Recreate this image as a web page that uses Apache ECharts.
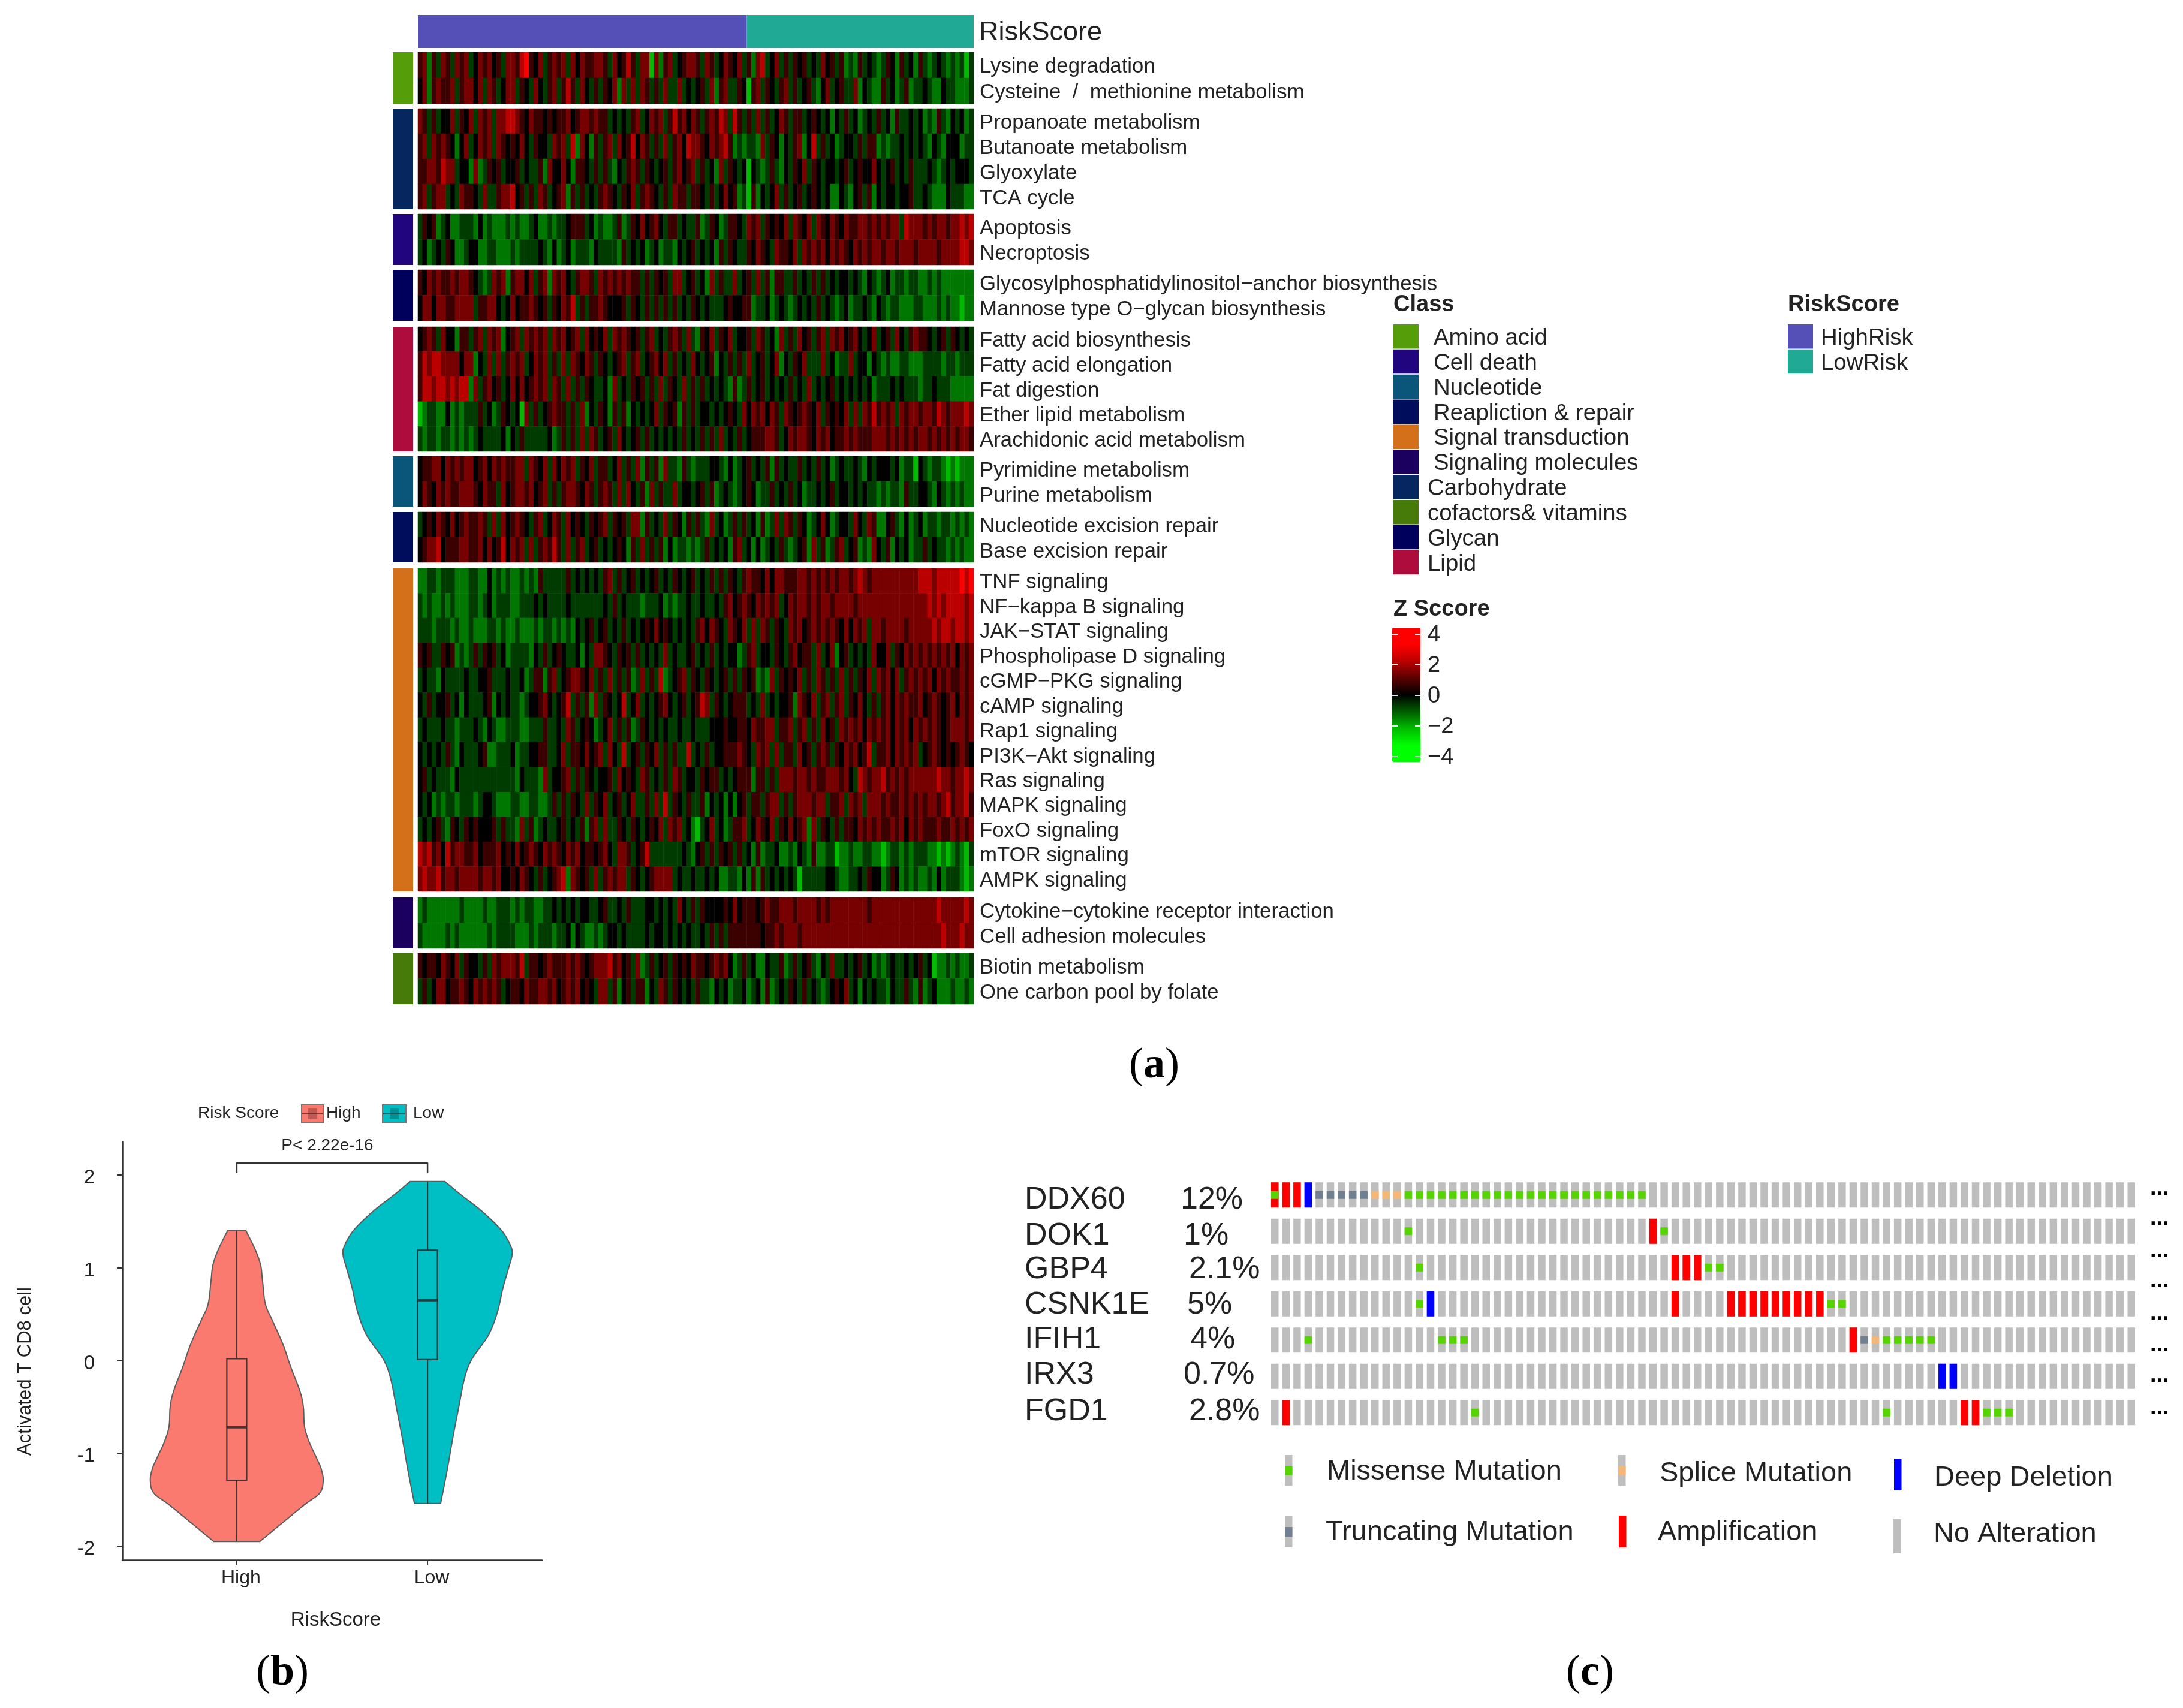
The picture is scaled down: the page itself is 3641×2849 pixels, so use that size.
<!DOCTYPE html>
<html><head><meta charset="utf-8">
<style>html,body{margin:0;padding:0;background:#fff}#c{width:3641px;height:2849px;filter:blur(0.7px)}</style>
<script src="https://cdn.jsdelivr.net/npm/echarts@6/dist/echarts.min.js"></script>
</head><body><div id="c"></div>
<script>
// ---------- panel (a) data: z-score levels estimated by eye, 0..8 => -3.3 .. +3.3 (4 = 0)
const aminoLabels=["Lysine degradation","Cysteine  /  methionine metabolism"];
const aminoRows=[
"5625365365 6346564536 6578546356 5636465566 5364575366 1625634566 5365346546 3526734635 3545343645 3523253432 3542534253 2343232313",
"4625655635 6646365346 6354364356 3575364353 5462636365 3536336343 4536256335 4156354356 3534532463 4533624322 5342352334 3224332223"];
const carbLabels=["Propanoate metabolism","Butanoate metabolism","Glyoxylate","TCA cycle"];
const carbRows=[
"6535344635 4636563667 7654655454 5564566565 5343435634 6563575646 5356576375 3536353465 3553454342 4353423435 3425334342 3253243423",
"5636565424 6346563654 5464354436 5637264253 5636457465 3536356476 6546567523 2332635424 3562473534 2344353552 3233434343 2432444233",
"5566576634 4262354534 4534335264 4642554353 5324356535 4345356456 3534263543 4143235324 3546354344 3453454464 3453435333 4323434443",
"5635663436 5543633566 7453536534 5625353435 6543546356 5435365535 5435346452 3152434635 3453454342 2432453524 3443445334 3222433322"];
const deathLabels=["Apoptosis","Necroptosis"];
const deathRows=[
"3545234223 3324232223 2322342232 3345553423 2235235464 5643553433 5235423554 3656354546 3654636546 5465566565 6566376665 6566566767",
"3423435422 3442233222 3233334324 2342333243 3332534342 3423324345 3434253543 3546543655 4636565646 5654656566 5665666566 6656666776"];
const glycanLabels=["Glycosylphosphatidylinositol\u2212anchor biosynthesis","Mannose type O\u2212glycan biosynthesis"];
const glycanRows=[
"5465655656 6543236562 5664635626 5643566536 5656565535 3545366345 3426353363 4536352553 3534353534 3443432432 3423323322 3232222222",
"4664665566 6635566434 6455654535 4657353556 5444535435 3535353435 4343334544 5523342343 2343435343 2342334324 3233222332 2232322122"];
const lipidLabels=["Fatty acid biosynthesis","Fatty acid elongation","Fat digestion","Ether lipid metabolism","Arachidonic acid metabolism"];
const lipidRows=[
"4565364425 5356365624 5636565636 5645636454 6365654535 6343565363 2546354634 4536534263 5364535636 5645643463 4536435655 4345354343",
"5767766664 6624363635 6563465635 3636546535 4345635634 5646353436 4345243535 3634534624 3546333634 2336344243 2322332223 3332332333",
"5776776767 7263564534 6464565636 5363535433 4263435453 5363543635 3534343252 3534534343 5343634345 3434343423 3343433323 3433322222",
"1233224232 3335342354 3416353456 5535362435 4253524343 4635452535 3443434543 6465646536 5456546354 5463636575 6563656656 6576566676",
"3233233232 3234333342 4353333342 3535363653 4536434535 3434343534 3535363435 3455566534 6566546564 5565655566 6565656566 5656565665"];
const nucleotideLabels=["Pyrimidine metabolism","Purine metabolism"];
const nucleotideRows=[
"4556646565 6645646565 5663654636 4656354635 5346353625 3526332532 3334432423 4534352534 3353435342 3433432434 4434233143 2332121222",
"4654656556 6654655364 5665645635 3566546535 6536364352 6353363443 4535234323 4542335343 5342334345 3443434332 3233253344 3243232322"];
const repairLabels=["Nucleotide excision repair","Base excision repair"];
const repairRows=[
"3454654645 6556536364 5654356346 5364543545 6354536625 3436354253 5326342353 5342523636 5354234642 3443643652 2453242342 3323323232",
"4566745556 6556464574 6563635657 5363563453 4345425363 5352423323 2353434256 3424234353 2345263523 5634523264 3524342335 3433232322"];
const signalLabels=["TNF signaling","NF\u2212kappa B signaling","JAK\u2212STAT signaling","Phospholipase D signaling","cGMP\u2212PKG signaling","cAMP signaling","Rap1 signaling","PI3K\u2212Akt signaling","Ras signaling","MAPK signaling","FoxO signaling","mTOR signaling","AMPK signaling"];
const signalRows=[
"2233233322 2332242323 2232325333 3353434343 5635345343 4534354345 3435353543 5655464665 5566565656 5665676566 6666666677 7677777878",
"3232232322 2332342333 2233343433 3343333333 4353433323 3342323343 3433435645 6546565634 6566565665 6666566666 6666666666 7676777767",
"3332333232 2322233232 2322232332 3232434534 5343534345 4645434343 5646543654 6363653543 6564565656 5464656366 5666656666 6767767767",
"5453354523 2353545342 3333243534 5433424366 5435453534 3436343345 3435343442 3563443543 5645536346 2453434364 4635465656 5656564656",
"3433243333 4334453334 3342355256 3456654635 3635352363 5372345635 4354345353 5452326354 5463536535 3635354636 5646356565 6465655656",
"4353445342 4333452434 3323445643 4573535263 5434734634 3456434534 5763543455 5343634344 5265463563 5635464353 5646565564 5654564656",
"3433343323 3343243223 3322333533 4365345423 4635352354 3434334334 3334445445 5465566355 6356353645 3656564656 5646564656 5654566656",
"4343435324 3334522333 4233445533 4635546456 3643734535 4635353373 4353445556 5436563635 5364535653 5465645735 5646565634 5654545654",
"4534333243 3333333333 3243332634 4563535434 4536454365 3435365344 3545534345 5525535366 6566565566 6564376566 7565656666 6676656676",
"4342323323 3323443222 3322332235 3535436354 6345346335 3637354353 3524342424 5355356635 3566656635 5636563666 5655656565 6656756675",
"3434532543 5454445353 3263523433 4534352563 6335435434 5463656342 1346342355 6346546354 6456263543 5355465656 5565646565 5565565656",
"7675647566 5564555645 4645654656 5465645545 6436653457 3333333432 4535354535 3425233422 3243252233 1223223322 1233232333 2212123213",
"6766756656 6665665644 5465435345 6726545363 5656635434 5666634334 3343422332 4252534343 4313333344 3223343544 2354232322 3242333212"];
const moleculeLabels=["Cytokine\u2212cytokine receptor interaction","Cell adhesion molecules"];
const moleculeRows=[
"2322222223 2222322333 2323322334 3434344334 5334353334 4343436435 3544445464 5554565566 6566665656 6666666566 6666666666 6676666676",
"3222223232 2222232333 3222323332 3342432232 3443433334 3443434343 3435353555 5555455656 6656666666 6666666666 6666666666 6667666766"];
const cofactorLabels=["Biotin metabolism","One carbon pool by folate"];
const cofactorRows=[
"5455465463 5443536566 6573554565 5565654566 6756453623 5345354546 5545656423 5342243352 3534532436 3343453423 2343343453 4122323223",
"3534664556 5465656534 5546556656 4565645436 6352453552 4365354343 5332434233 4234252343 5435343234 5463424343 3243353252 3422232232"];
const levelValues=[-3.3,-2.2,-1.4,-0.7,0,0.7,1.4,2.2,3.3];

const riskNames=["HighRisk","LowRisk"];
const riskSampleCounts=[71,49];
const riskColors=["#5450B8","#20A994"];
const classNames=["Amino acid","Cell death","Nucleotide","Reapliction & repair","Signal transduction","Signaling molecules","Carbohydrate","cofactors& vitamins","Glycan","Lipid"];
const classColors=["#559E0A","#21057F","#09567A","#000C5C","#D5701A","#1B0060","#05265F","#467A09","#00005C","#AF0C3E"];
const zTicks=[4,2,0,-2,-4];

// ---------- panel (b) data
const riskGroups=["High","Low"];
const highDensityY=[1.40,1.20,1.03,0.86,0.61,0.44,0.18,-0.07,-0.33,-0.50,-0.71,-0.88,-1.05,-1.17,-1.30,-1.43,-1.56,-1.77,-1.95];
const highDensityW=[.048,.096,.125,.135,.150,.185,.241,.283,.331,.349,.355,.380,.418,.443,.453,.434,.351,.227,.121];
const lowDensityY=[1.93,1.79,1.62,1.41,1.24,1.14,.99,.78,.52,.27,.01,-.20,-.50,-.83,-1.17,-1.54];
const lowDensityW=[.091,.173,.279,.385,.435,.443,.424,.395,.366,.318,.231,.193,.164,.133,.104,.069];
const highBox=[-1.95,-1.29,-0.72,0.02,1.40];
const lowBox=[-1.54,0.01,0.65,1.19,1.93];
const bracketPoints=[[1,2.02],[1,2.13],[2,2.13],[2,2.02]];

// ---------- panel (c) data
const genes=["DDX60","DOK1","GBP4","CSNK1E","IFIH1","IRX3","FGD1"];
const genePercents=["12%","1%","2.1%","5%","4%","0.7%","2.8%"];
const sampleColumnCount=78;
const amplification=[[0,0],[1,0],[2,0],[34,1],[36,2],[37,2],[38,2],[36,3],[41,3],[42,3],[43,3],[44,3],[45,3],[46,3],[47,3],[48,3],[49,3],[52,4],[1,6],[62,6],[63,6]];
const deepDeletion=[[3,0],[14,3],[60,5],[61,5]];
const truncating=[[4,0],[5,0],[6,0],[7,0],[8,0],[53,4]];
const splice=[[9,0],[10,0],[11,0],[54,4]];
const missense=[[0,0],[12,0],[13,0],[14,0],[15,0],[16,0],[17,0],[18,0],[19,0],[20,0],[21,0],[22,0],[23,0],[24,0],[25,0],[26,0],[27,0],[28,0],[29,0],[30,0],[31,0],[32,0],[33,0],
[12,1],[35,1],[13,2],[39,2],[40,2],[13,3],[50,3],[51,3],[3,4],[15,4],[16,4],[17,4],[55,4],[56,4],[57,4],[58,4],[59,4],[18,6],[55,6],[64,6],[65,6],[66,6]];
const alterationNames=["Missense Mutation","Splice Mutation","Deep Deletion","Truncating Mutation","Amplification","No Alteration"];

// ---------- layout and styles
const SANS='"Liberation Sans"';
const INK='#222';
const GRAY='#BEBEBE',RED='#FF0000',BLUE='#0000FF',GREEN='#55D400',SLATE='#708090',PEACH='#F5B775';
const groups=[
 {labels:aminoLabels,rows:aminoRows,cls:0,top:87,bottom:173},
 {labels:carbLabels,rows:carbRows,cls:6,top:181,bottom:349},
 {labels:deathLabels,rows:deathRows,cls:1,top:357,bottom:442},
 {labels:glycanLabels,rows:glycanRows,cls:8,top:450,bottom:535},
 {labels:lipidLabels,rows:lipidRows,cls:9,top:545,bottom:753},
 {labels:nucleotideLabels,rows:nucleotideRows,cls:2,top:761,bottom:845},
 {labels:repairLabels,rows:repairRows,cls:3,top:854,bottom:938},
 {labels:signalLabels,rows:signalRows,cls:4,top:948,bottom:1487},
 {labels:moleculeLabels,rows:moleculeRows,cls:5,top:1497,bottom:1582},
 {labels:cofactorLabels,rows:cofactorRows,cls:7,top:1590,bottom:1675}];
const HEAT_L=697,HEAT_W=927,ANN_L=655,ANN_W=34;

const grid=[],xAxis=[],yAxis=[],series=[],graphic=[];
function addGrid(rect,x,y){
  grid.push(Object.assign({containLabel:false},rect));
  const i=grid.length-1;
  xAxis.push(Object.assign({gridIndex:i},x));
  yAxis.push(Object.assign({gridIndex:i},y));
  return i;
}
const hiddenAxisBits={axisLine:{show:false},axisTick:{show:false},splitLine:{show:false}};
const noLabel={axisLabel:{show:false}};

// risk score bar
{
  const g=addGrid({left:HEAT_L,top:25,width:HEAT_W,height:55},
    Object.assign({type:'value',min:0,max:riskSampleCounts[0]+riskSampleCounts[1]},hiddenAxisBits,noLabel),
    Object.assign({type:'category',data:['RiskScore'],position:'right'},hiddenAxisBits,{axisLabel:{fontFamily:SANS,fontSize:45,color:INK,margin:9,verticalAlign:'top',lineHeight:4}}));
  riskNames.forEach((n,i)=>series.push({type:'bar',name:n,stack:'risk',xAxisIndex:g,yAxisIndex:g,barWidth:'100%',silent:true,
    itemStyle:{color:riskColors[i]},data:[riskSampleCounts[i]]}));
}
// heatmap groups
const heatIdx=[];
groups.forEach(G=>{
  const rows=G.rows.map(r=>r.replace(/ /g,''));
  const cols=rows[0].length;
  const h=G.bottom-G.top;
  const g=addGrid({left:HEAT_L,top:G.top,width:HEAT_W,height:h},
    Object.assign({type:'category',data:Array.from({length:cols},(_,i)=>'S'+i)},hiddenAxisBits,noLabel),
    Object.assign({type:'category',inverse:true,data:G.labels,position:'right'},hiddenAxisBits,{axisLabel:{interval:0,fontFamily:SANS,fontSize:34.8,color:INK,margin:10,verticalAlign:'top',lineHeight:6}}));
  const data=[];
  rows.forEach((r,y)=>{for(let x=0;x<r.length;x++)data.push([x,y,levelValues[+r[x]]]);});
  heatIdx.push(series.length);
  series.push({type:'heatmap',xAxisIndex:g,yAxisIndex:g,data,silent:true,progressive:0,emphasis:{disabled:true}});
  // class annotation strip
  const a=addGrid({left:ANN_L,top:G.top,width:ANN_W,height:h},
    Object.assign({type:'value',min:0,max:1},hiddenAxisBits,noLabel),
    Object.assign({type:'category',data:[classNames[G.cls]]},hiddenAxisBits,noLabel));
  series.push({type:'bar',xAxisIndex:a,yAxisIndex:a,barWidth:'100%',silent:true,itemStyle:{color:classColors[G.cls]},data:[1]});
});

// violin
function catmull(p){
  const out=[];
  for(let i=0;i<p.length-1;i++){
    const a=p[Math.max(i-1,0)],b=p[i],c=p[i+1],d=p[Math.min(i+2,p.length-1)];
    for(let k=0;k<8;k++){
      const t=k/8,t2=t*t,t3=t2*t;
      out.push([0,1].map(j=>0.5*(2*b[j]+(c[j]-a[j])*t+(2*a[j]-5*b[j]+4*c[j]-d[j])*t2+(3*b[j]-a[j]-3*c[j]+d[j])*t3)));
    }
  }
  out.push(p[p.length-1]);
  return out;
}
const violinDefs=[
 {y:highDensityY,w:highDensityW,box:highBox,fill:'#FB7A70'},
 {y:lowDensityY,w:lowDensityW,box:lowBox,fill:'#00BFC4'}];
function renderViolin(params,api){
  const c=api.value(0),V=violinDefs[params.dataIndex];
  const left=catmull(V.y.map((y,i)=>api.coord([c-V.w[i],y])));
  const right=catmull(V.y.map((y,i)=>api.coord([c+V.w[i],y])));
  const bw=0.052,b=V.box;
  const stroke='rgba(40,40,40,0.85)';
  const P=(x,y)=>api.coord([x,y]);
  const ln=(x1,y1,x2,y2,w)=>{const s=P(x1,y1),e=P(x2,y2);return{type:'line',shape:{x1:s[0],y1:s[1],x2:e[0],y2:e[1]},style:{stroke,lineWidth:w,fill:null}};};
  return {type:'group',children:[
    {type:'polygon',shape:{points:left.concat(right.reverse())},style:{fill:V.fill,stroke:'#5c5c5c',lineWidth:2}},
    ln(c,b[3],c,b[4],2.2),ln(c,b[0],c,b[1],2.2),
    {type:'polygon',shape:{points:[P(c-bw,b[1]),P(c+bw,b[1]),P(c+bw,b[3]),P(c-bw,b[3])]},style:{fill:null,stroke,lineWidth:2.2}},
    ln(c-bw,b[2],c+bw,b[2],4)
  ]};
}
{
  const g=addGrid({left:204,top:1905,width:700,height:697},
   {type:'value',min:0.4,max:2.6,splitLine:{show:false},
    axisLine:{show:true,onZero:false,lineStyle:{color:'#333',width:2.5}},
    axisTick:{show:true,length:8,lineStyle:{color:'#333',width:2},customValues:[1,2]},
    axisLabel:{customValues:[1,2],formatter:v=>riskGroups[Math.round(v)-1],fontFamily:SANS,fontSize:32,color:INK,margin:14,padding:[0,0,0,14]},
    name:'RiskScore',nameLocation:'middle',nameGap:84,nameTextStyle:{fontFamily:SANS,fontSize:33,color:INK,padding:[0,0,0,12]}},
   {type:'value',min:-2.149,max:2.355,splitLine:{show:false},
    axisLine:{show:true,onZero:false,lineStyle:{color:'#333',width:2.5}},
    axisTick:{show:true,length:9,lineStyle:{color:'#333',width:2},customValues:[-2,-1,0,1,2]},
    axisLabel:{customValues:[-2,-1,0,1,2],fontFamily:SANS,fontSize:33,color:INK,margin:46,verticalAlign:'top',lineHeight:10},
    name:'Activated T CD8 cell',nameLocation:'middle',nameRotate:90,nameGap:146,nameTextStyle:{fontFamily:SANS,fontSize:31,color:INK,padding:[0,68,0,0]}});
  series.push({type:'custom',xAxisIndex:g,yAxisIndex:g,silent:true,clip:false,encode:{x:0,y:1},
    data:[[1,highBox[2]],[2,lowBox[2]]],renderItem:renderViolin});
  series.push({type:'line',xAxisIndex:g,yAxisIndex:g,silent:true,symbol:'none',animation:false,
    lineStyle:{color:'#333',width:2.5},data:bracketPoints});
}

// oncoprint
{
  const g=addGrid({left:2117,top:1963,width:1447,height:423.5},
    Object.assign({type:'category',data:Array.from({length:sampleColumnCount},(_,i)=>'P'+i)},hiddenAxisBits,noLabel),
    Object.assign({type:'category',inverse:true,data:genes},hiddenAxisBits,noLabel));
  const cells=[];
  genes.forEach((_,r)=>{for(let c=0;c<sampleColumnCount;c++)cells.push([c,r,GRAY,1]);});
  amplification.forEach(p=>cells.push([p[0],p[1],RED,1]));
  deepDeletion.forEach(p=>cells.push([p[0],p[1],BLUE,1]));
  truncating.forEach(p=>cells.push([p[0],p[1],SLATE,0]));
  splice.forEach(p=>cells.push([p[0],p[1],PEACH,0]));
  missense.forEach(p=>cells.push([p[0],p[1],GREEN,0]));
  series.push({type:'custom',xAxisIndex:g,yAxisIndex:g,silent:true,encode:{x:0,y:1},data:cells,progressive:0,
    renderItem(params,api){
      const p=api.coord([api.value(0),api.value(1)]);
      const cell=cells[params.dataIndex];
      const h=cell[3]?42:13,w=12.5;
      return {type:'rect',shape:{x:p[0]-w/2,y:p[1]-h/2,width:w,height:h},style:{fill:cell[2]}};
    }});
}

// ---------- text and legends
function txt(text,x,y,size,o){
  graphic.push({type:'text',x,y,z:50,silent:true,style:Object.assign({text,fill:INK,font:(o&&o.bold?'bold ':'')+size+'px '+SANS,align:'left',verticalAlign:'middle'},o&&o.style)});
}
function box(x,y,w,h,fill){graphic.push({type:'rect',z:40,silent:true,shape:{x,y,width:w,height:h},style:{fill}});}

// class legend
txt('Class',2324,509,38,{bold:true});
classNames.forEach((n,i)=>{
  const y=541+i*41.85;
  box(2324,y,42,40.5,classColors[i]);
  txt(n,i<6?2391:2381,y+23.5,38.4);
});
// risk legend
txt('RiskScore',2982,509,38,{bold:true});
riskNames.forEach((n,i)=>{
  const y=541+i*41.85;
  box(2982,y,42,40.5,riskColors[i]);
  txt(n,3037,y+23.5,38.4);
});
// z-score legend labels
txt('Z Sccore',2324,1017,38,{bold:true});
zTicks.forEach((t,i)=>{
  const y=1058+i*51;
  txt(String(t).replace('-','\u2212'),2381,y+2,38);
  box(2322,y-1,9,2,'#e8e8e8');box(2360,y-1,9,2,'#e8e8e8');
});
// violin extras
txt('P< 2.22e-16',546,1911,28,{style:{align:'center'}});
txt('Risk Score',330,1857,28);
box(502,1842,39,32,'#777');box(504,1844,35,28,violinDefs[0].fill);box(504,1857,35,2,'#8a3a34');box(514,1849,15,18,'rgba(90,30,30,0.35)');
txt('High',544,1857,28);
box(637,1842,41,32,'#777');box(639,1844,37,28,violinDefs[1].fill);box(639,1857,37,2,'#045a5d');box(650,1849,15,18,'rgba(0,60,60,0.35)');
txt('Low',689,1857,28);
// oncoprint text
const geneTextY=[2002,2062,2118,2177,2235,2294,2355];
const percentTextX=[1969,1974,1983,1980,1985,1974,1983];
genes.forEach((n,i)=>{txt(n,1709,geneTextY[i],52);txt(genePercents[i],percentTextX[i],geneTextY[i],52);});
[1997,2047,2101,2151,2205,2258,2309,2363].forEach(y=>txt('...',3586,y-14,38,{bold:true,style:{fill:'#000'}}));
// oncoprint legend
const legendCells=[
 {x:2149,y:2427,h:51,base:GRAY,mid:GREEN,tx:2213,ty:2455},
 {x:2705,y:2427,h:51,base:GRAY,mid:PEACH,tx:2768,ty:2458},
 {x:3165,y:2433,h:53,base:BLUE,tx:3226,ty:2465},
 {x:2149,y:2528,h:53,base:GRAY,mid:SLATE,tx:2211,ty:2556},
 {x:2706,y:2528,h:53,base:RED,tx:2765,ty:2556},
 {x:3164,y:2534,h:57,base:GRAY,tx:3225,ty:2559}];
legendCells.forEach((L,i)=>{
  box(L.x-6,L.y,12.5,L.h,L.base);
  if(L.mid)box(L.x-6,L.y+L.h*0.36,12.5,L.h*0.3,L.mid);
  txt(alterationNames[i],L.tx,L.ty,47);
});
// panel letters
function panelLetter(l,x,y){
  graphic.push({type:'text',x,y,z:50,silent:true,style:{text:'{n|(}{b|'+l+'}{n|)}',align:'center',verticalAlign:'middle',
    rich:{n:{font:'72px "Liberation Serif"',fill:'#000'},b:{font:'bold 72px "Liberation Serif"',fill:'#000'}}}});
}
panelLetter('a',1925,1778);panelLetter('b',471,2791);panelLetter('c',2652,2791);

const chart=echarts.init(document.getElementById('c'),null,{renderer:'canvas',width:3641,height:2849});
chart.setOption({
  animation:false,backgroundColor:'#fff',textStyle:{fontFamily:SANS},
  tooltip:{show:false},
  grid,xAxis,yAxis,series,graphic:{elements:graphic},
  visualMap:{type:'continuous',seriesIndex:heatIdx,min:-4.4,max:4.4,left:2322,top:1047,itemWidth:47,itemHeight:224,padding:0,
    calculable:false,hoverLink:false,orient:'vertical',
    inRange:{color:['#00ff00','#00ff00','#00bb00','#005d00','#000000','#5d0000','#bb0000','#ff0000','#ff0000']}}
});
</script></body></html>
